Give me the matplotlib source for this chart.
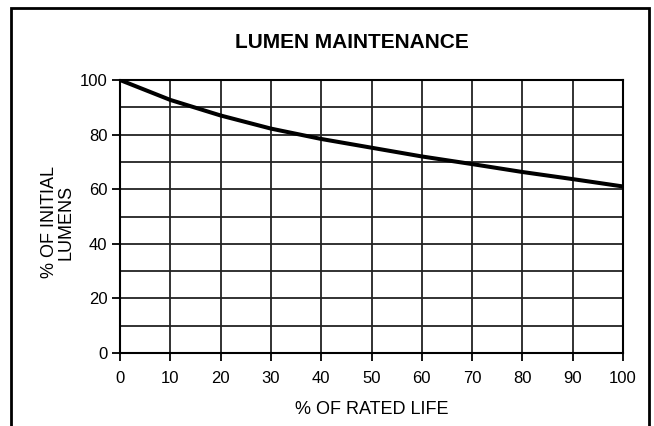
import matplotlib.pyplot as plt
from matplotlib.patches import Rectangle

rated_life = [0, 10, 20, 30, 40, 50, 60, 70, 80, 90, 100]
lumens = [100, 92.7, 87.0, 82.2, 78.4, 75.2, 72.0, 69.2, 66.3, 63.7, 61.0]
x_ticks = [0, 10, 20, 30, 40, 50, 60, 70, 80, 90, 100]
y_ticks = [0, 20, 40, 60, 80, 100]
y_grid = [10, 20, 30, 40, 50, 60, 70, 80, 90]

plt.rcParams['font.family'] = ['Liberation Sans', 'DejaVu Sans']

fig = plt.figure(figsize=(6.54, 4.26), dpi=100)
ax = fig.add_axes([120 / 654, 1 - 353 / 426, 503 / 654, 273 / 426])

# Moldura exterior (sem lado inferior visivel)
fig.patches.append(Rectangle((11 / 654, -0.1), 638 / 654, 1.1 - 8 / 426,
                             transform=fig.transFigure, fill=False,
                             edgecolor='black', linewidth=2))

# Grelha
for x in x_ticks[1:-1]:
    ax.axvline(x, color='#222222', linewidth=1.3, zorder=1)
for y in y_grid:
    ax.axhline(y, color='#222222', linewidth=1.3, zorder=1)

ax.plot(rated_life, lumens, color='black', linewidth=2.9, zorder=3,
        solid_capstyle='butt')

ax.set_xlim(0, 100)
ax.set_ylim(0, 100)
ax.set_xticks(x_ticks)
ax.set_yticks(y_ticks)
ax.tick_params(direction='out', length=6, width=1.3, labelsize=12,
               colors='black')
ax.tick_params(axis='x', pad=7)
ax.tick_params(axis='y', pad=3)
for s in ax.spines.values():
    s.set_linewidth(1.5)

ax.set_xlabel('% OF RATED LIFE', fontsize=13, labelpad=11)
ax.set_ylabel('% OF INITIAL\nLUMENS', fontsize=13, linespacing=1.0)
ax.yaxis.set_label_coords(-0.09, 0.48)
fig.text(352 / 654, 1 - 42 / 426, 'LUMEN MAINTENANCE', ha='center',
         va='center', fontsize=15, fontweight='bold')

fig.savefig('out.png', dpi=100)
